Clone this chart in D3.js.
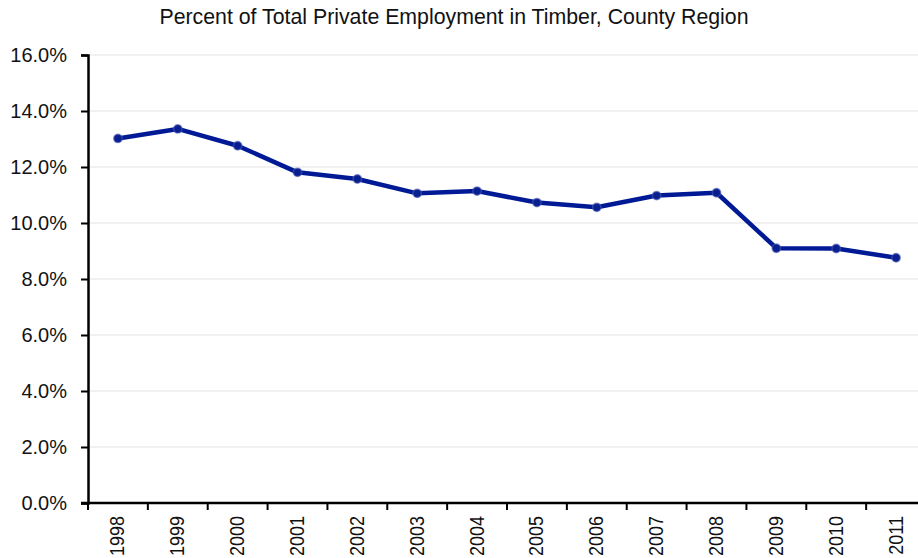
<!DOCTYPE html>
<html>
<head>
<meta charset="utf-8">
<script src="https://cdn.jsdelivr.net/npm/d3@7"></script>
<style>
  html, body { margin: 0; padding: 0; background: #fff; overflow: hidden; }
  svg { display: block; font-family: "Liberation Sans", Arial, sans-serif; }
</style>
</head>
<body>
<svg id="chart" width="918" height="558"></svg>
<script>
// Share of total private employment held by the timber sector, by year
const years = ["1998","1999","2000","2001","2002","2003","2004","2005","2006","2007","2008","2009","2010","2011"];
const timberShare = [13.02, 13.36, 12.76, 11.81, 11.57, 11.06, 11.14, 10.73, 10.56, 10.98, 11.08, 9.10, 9.09, 8.76];
const yTicks = [0, 2, 4, 6, 8, 10, 12, 14, 16];
const title = "Percent of Total Private Employment in Timber, County Region";

(function () {
  const svg = d3.select("#chart");
  const plotLeft = 88, plotRight = 926, plotTop = 55, plotBottom = 503;

  const x = d3.scaleBand().domain(years).range([plotLeft, plotRight]);
  const y = d3.scaleLinear().domain([0, 16]).range([plotBottom, plotTop]);

  // title
  svg.append("text")
    .attr("x", 454).attr("y", 24)
    .attr("text-anchor", "middle")
    .attr("font-size", 21.3)
    .attr("fill", "#111")
    .text(title);

  // horizontal gridlines
  svg.append("g")
    .selectAll("line")
    .data(yTicks.filter(d => d > 0))
    .join("line")
    .attr("x1", plotLeft).attr("x2", 918)
    .attr("y1", d => y(d)).attr("y2", d => y(d))
    .attr("stroke", "#ececec")
    .attr("stroke-width", 1.5);

  // y axis
  const yAxis = svg.append("g")
    .attr("transform", `translate(${plotLeft},0)`)
    .call(d3.axisLeft(y).tickValues(yTicks).tickSize(7).tickPadding(14)
      .tickFormat(d => d.toFixed(1) + "%"));
  yAxis.attr("font-size", null).attr("font-family", null);
  yAxis.select(".domain").attr("stroke", "#000").attr("stroke-width", 2.5);
  yAxis.selectAll(".tick line").attr("stroke", "#000").attr("stroke-width", 2);
  yAxis.selectAll(".tick text")
    .attr("font-size", 20)
    .attr("fill", "#111");

  // x axis baseline with tick marks at category boundaries
  const xg = svg.append("g");
  xg.append("line")
    .attr("x1", plotLeft - 7).attr("x2", 918)
    .attr("y1", plotBottom).attr("y2", plotBottom)
    .attr("stroke", "#000").attr("stroke-width", 2.5);
  xg.selectAll("line.tk")
    .data(years)
    .join("line")
    .attr("class", "tk")
    .attr("x1", d => x(d)).attr("x2", d => x(d))
    .attr("y1", plotBottom).attr("y2", plotBottom + 7)
    .attr("stroke", "#000").attr("stroke-width", 2);
  xg.selectAll("text")
    .data(years)
    .join("text")
    .attr("transform", d => `translate(${x(d) + x.bandwidth() / 2 + 6.5},${plotBottom + 13}) scale(1.15,1) rotate(-90)`)
    .attr("text-anchor", "end")
    .attr("font-size", 18)
    .attr("fill", "#111")
    .text(d => d);

  // series line
  const pts = years.map((yr, i) => [x(yr) + x.bandwidth() / 2, y(timberShare[i])]);
  svg.append("path")
    .attr("d", d3.line()(pts))
    .attr("fill", "none")
    .attr("stroke", "#001a96")
    .attr("stroke-width", 4.5)
    .attr("stroke-linejoin", "round");

  // markers
  svg.append("g")
    .selectAll("path")
    .data(pts)
    .join("path")
    .attr("transform", d => `translate(${d[0]},${d[1]})`)
    .attr("d", d3.symbol(d3.symbolCircle, 55)())
    .attr("fill", "#0a1f8f")
    .attr("stroke", "#4a5ab0")
    .attr("stroke-opacity", 0.6)
    .attr("stroke-width", 1.5);
})();
</script>
</body>
</html>
